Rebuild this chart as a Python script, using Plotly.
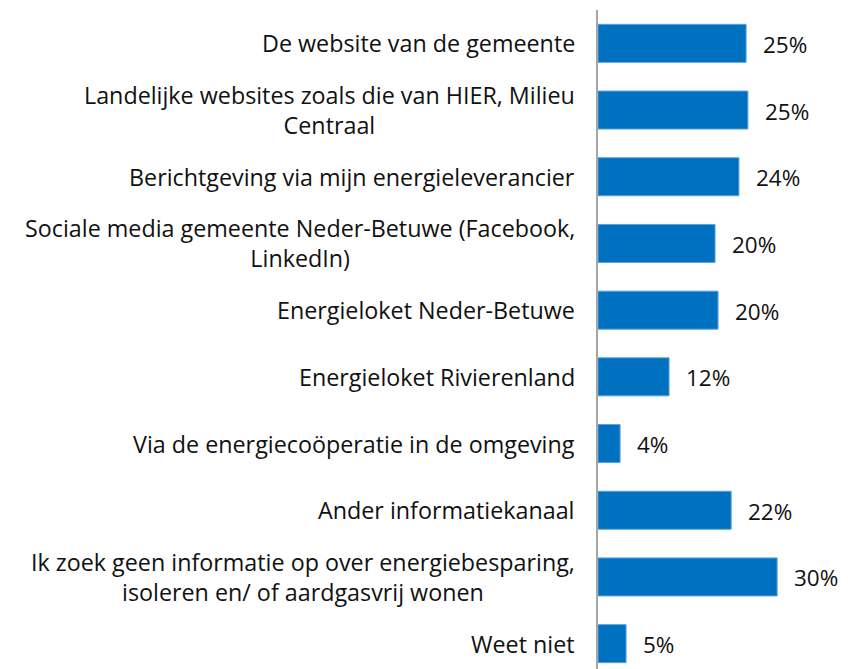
import plotly.graph_objects as go

categories = [
    "De website van de gemeente",
    "Landelijke websites zoals die van HIER, Milieu<br>Centraal",
    "Berichtgeving via mijn energieleverancier",
    "Sociale media gemeente Neder-Betuwe (Facebook,<br>LinkedIn)",
    "Energieloket Neder-Betuwe",
    "Energieloket Rivierenland",
    "Via de energiecoöperatie in de omgeving",
    "Ander informatiekanaal",
    "Ik zoek geen informatie op over energiebesparing,<br>isoleren en/ of aardgasvrij wonen",
    "Weet niet",
]
values = [24.8, 25.1, 23.6, 19.6, 20.1, 11.9, 3.7, 22.3, 30.0, 4.7]
value_labels = ["25%", "25%", "24%", "20%", "20%", "12%", "4%", "22%", "30%", "5%"]

FONT = "Open Sans"
BLUE = "#0070C0"

fig = go.Figure()
fig.add_trace(go.Bar(
    x=values, y=categories, orientation="h",
    marker=dict(color=BLUE, line=dict(color="#5aa3dc", width=1)),
    width=0.57, hoverinfo="skip",
))

# value labels to the right of each bar
for cat, val, lbl in zip(categories, values, value_labels):
    fig.add_annotation(x=val, y=cat, text=lbl, showarrow=False,
                       xanchor="left", xshift=15, yshift=-1,
                       font=dict(family=FONT, size=22.5, color="#111"))

# category labels, centred lines, right-aligned block
for cat in categories:
    fig.add_annotation(x=0, xref="x", y=cat, text=cat, showarrow=False,
                       xanchor="right", align="center", xshift=-21,
                       font=dict(family=FONT, size=23.3, color="#111"))

fig.update_layout(
    width=848, height=669,
    margin=dict(l=590, r=49, t=2, b=0),
    plot_bgcolor="white", paper_bgcolor="white",
    showlegend=False,
    xaxis=dict(range=[0, 35], visible=False),
    yaxis=dict(range=[9.5, -0.5], showticklabels=False, ticks="",
               showline=True, linecolor="#a6a6a6", linewidth=2,
               showgrid=False, zeroline=False),
)

fig.write_html("out.html")
